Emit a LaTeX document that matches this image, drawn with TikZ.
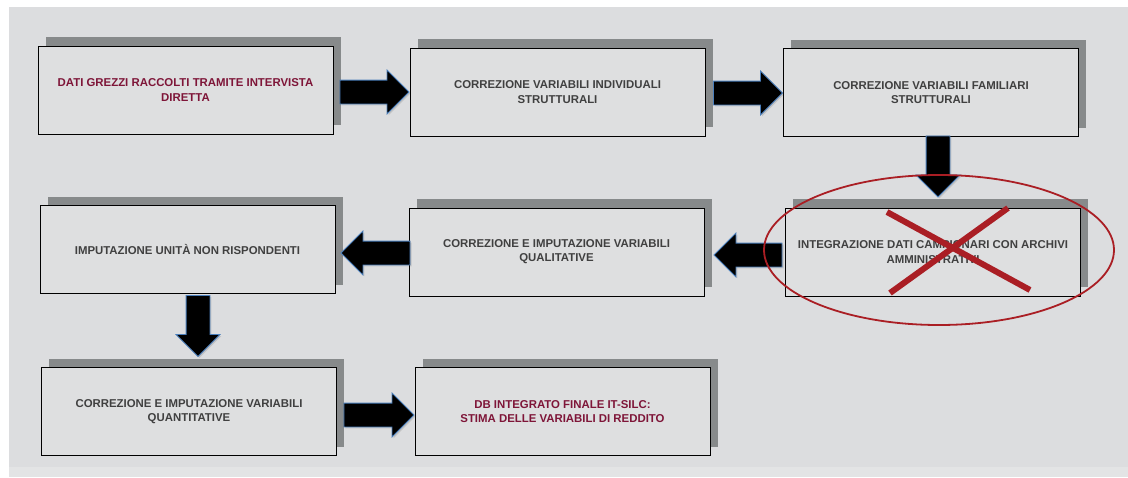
\documentclass[tikz,border=0pt]{standalone}
\usepackage{fontspec}
\setmainfont{Liberation Sans}
\usetikzlibrary{shapes.arrows,shadows,calc}

\definecolor{panel}{HTML}{DCDDDF}
\definecolor{panellow}{HTML}{E3E4E5}
\definecolor{boxfill}{HTML}{DEDFE0}
\definecolor{shadowgray}{HTML}{878A8B}
\definecolor{textgray}{HTML}{404040}
\definecolor{textred}{HTML}{7E1538}
\definecolor{arrowedge}{HTML}{4A7EBB}
\definecolor{markred}{HTML}{AA1E24}

\tikzset{
  stepbox/.style={draw=black, line width=0.9pt, fill=boxfill,
    minimum width=295pt, minimum height=88pt, inner sep=0pt,
    align=center, text=textgray,
    font=\fontsize{11.4}{14.2}\selectfont\bfseries,
    general shadow={fill=shadowgray, shadow xshift=7.5pt, shadow yshift=9pt}},
  keybox/.style={stepbox, text=textred},
  barrow/.style={single arrow, draw=arrowedge, line width=0.8pt, fill=black,
    inner sep=11.5pt, minimum width=0pt,
    single arrow head extend=10pt, single arrow tip angle=90,
    general shadow={fill=black, opacity=0.12, shadow xshift=1.5pt, shadow yshift=-1.5pt}},
  barrow right/.style={barrow, shape border rotate=0},
  barrow left/.style={barrow, shape border rotate=180},
  barrow down/.style={barrow, shape border rotate=270},
  redmark/.style={draw=markred, line width=1.8pt},
  crossmark/.style={draw=markred, line width=6pt},
}

\begin{document}
\begin{tikzpicture}[x=1pt, y=-1pt]
\useasboundingbox (0,0) rectangle (1128,477);
\fill[white] (0,0) rectangle (1128,477);
\fill[panel] (9,7) rectangle (1128,467);
\fill[panellow] (9,467) rectangle (1128,477);

% process steps
\node[keybox]  (b1) at (185.5,90)  {DATI GREZZI RACCOLTI TRAMITE INTERVISTA\\DIRETTA};
\node[stepbox] (b2) at (557.5,92)  {CORREZIONE VARIABILI INDIVIDUALI\\STRUTTURALI};
\node[stepbox] (b3) at (931,92.5)  {CORREZIONE VARIABILI FAMILIARI\\STRUTTURALI};
\node[stepbox] (b4) at (187.5,249.5) {IMPUTAZIONE UNITÀ NON RISPONDENTI};
\node[stepbox] (b5) at (556.5,252) {CORREZIONE E IMPUTAZIONE VARIABILI\\QUALITATIVE};
\node[stepbox] (b6) at (933,252)   {INTEGRAZIONE DATI CAMPIONARI CON ARCHIVI\\AMMINISTRATIVI};
\node[stepbox] (b7) at (189,411.5) {CORREZIONE E IMPUTAZIONE VARIABILI\\QUANTITATIVE};
\node[keybox]  (b8) at (562.5,411.5) {DB INTEGRATO FINALE IT-SILC:\\STIMA DELLE VARIABILI DI REDDITO};

% block arrows between the steps
\node[barrow right, minimum height=69pt, anchor=tip] (a12) at (b2.west) {};
\node[barrow right, minimum height=69pt, anchor=tip] (a23) at ($(b3.west)+(0,0.5)$) {};
\node[barrow down,  minimum height=61pt, anchor=tip] (a36) at ($(b6.north)+(5,-10)$) {};
\node[barrow left,  minimum height=68pt, anchor=tip] (a65) at ($(b5.east)+(9,3)$) {};
\node[barrow left,  minimum height=69pt, anchor=tip] (a54) at ($(b4.east)+(5,3.5)$) {};
\node[barrow down,  minimum height=61pt, anchor=tip] (a47) at ($(b7.north)+(9,-10)$) {};
\node[barrow right, minimum height=70pt, anchor=tip] (a78) at ($(b8.west)+(0,3.5)$) {};

% step removed from the procedure
\draw[redmark] ($(b6.center)+(6,-2)$) ellipse [x radius=175pt, y radius=75pt];
\draw[crossmark] ($(b6.center)+(-46,-40)$) -- ($(b6.center)+(97,38)$);
\draw[crossmark] ($(b6.center)+(75,-44)$) -- ($(b6.center)+(-43,41)$);
\end{tikzpicture}
\end{document}
